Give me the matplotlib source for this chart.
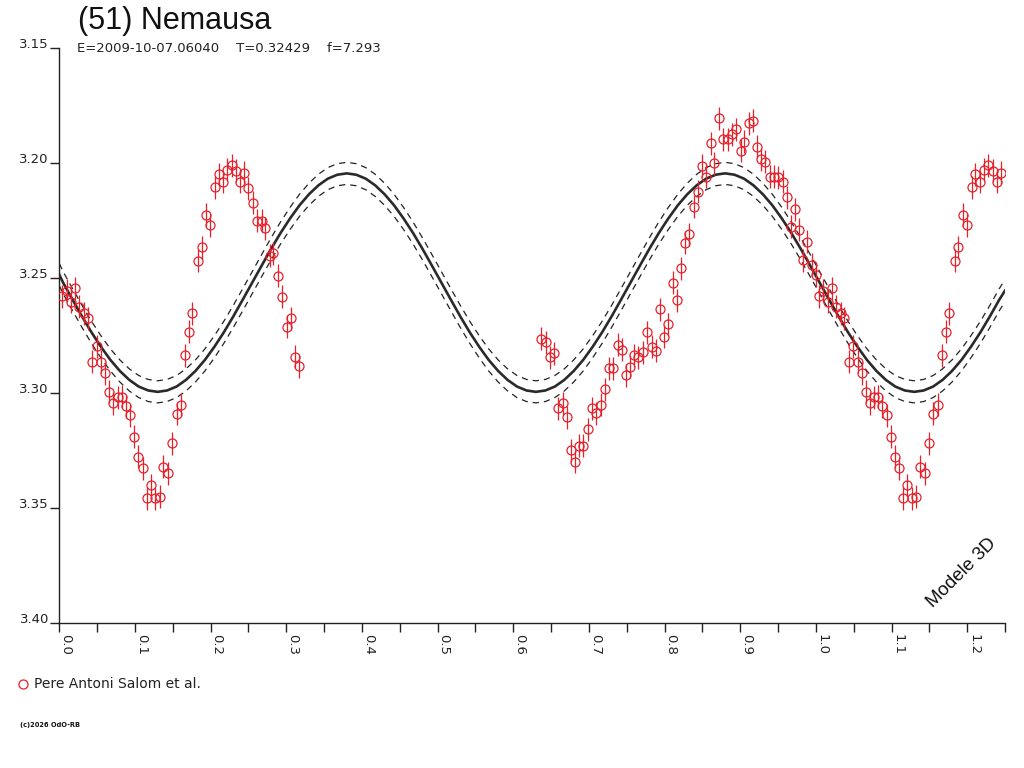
import numpy as np
import matplotlib
matplotlib.use("Agg")
import matplotlib.pyplot as plt
from matplotlib.lines import Line2D

plt.rcParams['font.family'] = ['DejaVu Sans']

# ---- observations (phase, reduced magnitude) ----
phase = [
    0.004, 0.0098, 0.0155, 0.0207, 0.026, 0.033, 0.0375, 0.0436, 0.0494, 0.0551,
    0.0604, 0.0657, 0.0714, 0.0771, 0.0824, 0.0877, 0.0934, 0.099, 0.1044, 0.1101,
    0.1154, 0.1211, 0.1265, 0.133, 0.1374, 0.144, 0.1493, 0.1551, 0.1608, 0.1661,
    0.1718, 0.1758, 0.1837, 0.1882, 0.1939, 0.1992, 0.2058, 0.211, 0.2167, 0.222,
    0.2278, 0.2335, 0.2388, 0.2445, 0.2498, 0.2556, 0.2609, 0.2675, 0.2718, 0.2784,
    0.2828, 0.2886, 0.2943, 0.3005, 0.3058, 0.3115, 0.3168,
    0.6366, 0.6428, 0.6485, 0.6542, 0.6595, 0.6653, 0.6705, 0.6762, 0.6815, 0.6872,
    0.6925, 0.6983, 0.7036, 0.7093, 0.7159, 0.7212, 0.7268, 0.7321, 0.7379, 0.7432,
    0.7489, 0.7542, 0.7599, 0.7652, 0.7718, 0.7771, 0.7829, 0.7886, 0.7939, 0.7995,
    0.8048, 0.8106, 0.8159, 0.8216, 0.8269, 0.8326, 0.8388, 0.8437, 0.8497, 0.8542,
    0.8608, 0.8656, 0.8718, 0.8775, 0.8833, 0.8894, 0.8943, 0.9005, 0.9053, 0.9115,
    0.9164, 0.9224, 0.9269, 0.9326, 0.9392, 0.9445, 0.9502, 0.956, 0.9613, 0.9666,
    0.9723, 0.9779, 0.9832, 0.9885, 0.9943, 0.9998,
]
mag = [
    3.258, 3.2555, 3.2603, 3.2545, 3.2625, 3.2653, 3.2675, 3.2864, 3.2796, 3.2864,
    3.2915, 3.2994, 3.3045, 3.3019, 3.3016, 3.3057, 3.3096, 3.319, 3.3277, 3.3327,
    3.3458, 3.340, 3.3458, 3.3451, 3.332, 3.3349, 3.3219, 3.3091, 3.3052, 3.2835,
    3.2733, 3.2653, 3.2425, 3.2367, 3.2226, 3.227, 3.2106, 3.2048, 3.2081, 3.203,
    3.2009, 3.2033, 3.2081, 3.2042, 3.211, 3.2173, 3.2251, 3.2251, 3.2284, 3.2404,
    3.2393, 3.2491, 3.2581, 3.2712, 3.2675, 3.2842, 3.2883,
    3.2765, 3.278, 3.2845, 3.2827, 3.3067, 3.3045, 3.3106, 3.3248, 3.3299, 3.323,
    3.323, 3.3158, 3.3067, 3.3088, 3.3052, 3.2983, 3.2893, 3.2893, 3.2791, 3.2813,
    3.2922, 3.2886, 3.2835, 3.2845, 3.2823, 3.2736, 3.2799, 3.2817, 3.2636, 3.2755,
    3.270, 3.252, 3.2596, 3.2458, 3.2346, 3.2309, 3.219, 3.2125, 3.2013, 3.206,
    3.1914, 3.2001, 3.1806, 3.1897, 3.1897, 3.1874, 3.1854, 3.1947, 3.1907, 3.1827,
    3.1816, 3.1929, 3.1984, 3.1994, 3.206, 3.206, 3.2062, 3.2081, 3.2149, 3.2277,
    3.2201, 3.2291, 3.2422, 3.2342, 3.2443, 3.2487,
]
mag_err = 0.005

# ---- 3D model light curve ----
model_phase = np.concatenate(([0.0], np.arange(0.005, 1.245, 0.0125), [1.25]))
model_mag = [3.2485,
    3.2520, 3.2594, 3.2667, 3.2736, 3.2799, 3.2856, 3.2904, 3.2943, 3.2972, 3.2989,
    3.2995, 3.2989, 3.2972, 3.2943, 3.2904, 3.2856, 3.2799, 3.2736, 3.2667, 3.2594,
    3.2520, 3.2446, 3.2373, 3.2304, 3.2241, 3.2184, 3.2136, 3.2097, 3.2068, 3.2051,
    3.2045, 3.2051, 3.2068, 3.2097, 3.2136, 3.2184, 3.2241, 3.2304, 3.2373, 3.2446,
    3.2520, 3.2594, 3.2667, 3.2736, 3.2799, 3.2856, 3.2904, 3.2943, 3.2972, 3.2989,
    3.2995, 3.2989, 3.2972, 3.2943, 3.2904, 3.2856, 3.2799, 3.2736, 3.2667, 3.2594,
    3.2520, 3.2446, 3.2373, 3.2304, 3.2241, 3.2184, 3.2136, 3.2097, 3.2068, 3.2051,
    3.2045, 3.2051, 3.2068, 3.2097, 3.2136, 3.2184, 3.2241, 3.2304, 3.2373, 3.2446,
    3.2520, 3.2594, 3.2667, 3.2736, 3.2799, 3.2856, 3.2904, 3.2943, 3.2972, 3.2989,
    3.2995, 3.2989, 3.2972, 3.2943, 3.2904, 3.2856, 3.2799, 3.2736, 3.2667, 3.2594,
    3.2555]
model_band = 0.0048

x_ticks = [0.0, 0.1, 0.2, 0.3, 0.4, 0.5, 0.6, 0.7, 0.8, 0.9, 1.0, 1.1, 1.2]
y_ticks = [3.15, 3.20, 3.25, 3.30, 3.35, 3.40]

title = "(51) Nemausa"
subtitle = "E=2009-10-07.06040    T=0.32429    f=7.293"
observer = "Pere Antoni Salom et al."

RED = '#e8202a'
INK = '#222222'

# ---- figure ----
W, H = 1024, 768
fig = plt.figure(figsize=(W / 100, H / 100), dpi=100)
ax = fig.add_axes([59.3 / W, 1 - 623 / H, (1005 - 59.3) / W, (623 - 48) / H])

ph = np.array(phase)
mg = np.array(mag)
wrap = ph < 0.247
xs = np.concatenate((ph, ph[wrap] + 1.0))
ys = np.concatenate((mg, mg[wrap]))

mm = np.array(model_mag)
ax.plot(model_phase, mm - model_band, color=INK, lw=0.9, ls=(0, (5, 4)), zorder=2)
ax.plot(model_phase, mm + model_band, color=INK, lw=0.9, ls=(0, (5, 4)), zorder=2)
ax.plot(model_phase, mm, color='#2a2a2a', lw=1.9, zorder=3)

ax.errorbar(xs, ys, yerr=mag_err, fmt='o', ms=6.5, mfc='none', mec=RED, mew=0.9,
            ecolor=RED, elinewidth=0.9, capsize=0, zorder=4)

ax.set_xlim(0.0, 1.25)
ax.set_ylim(3.40, 3.15)

ax.spines['top'].set_visible(False)
ax.spines['right'].set_visible(False)
for s in ('left', 'bottom'):
    ax.spines[s].set_linewidth(1.0)
    ax.spines[s].set_color(INK)

ax.set_xticks(x_ticks)
ax.set_xticks(np.arange(0.05, 1.26, 0.1), minor=True)
ax.set_xticklabels([f"{v:.1f}" for v in x_ticks])
ax.set_yticks(y_ticks)
ax.set_yticklabels([f"{v:.2f}" for v in y_ticks])

ax.tick_params(axis='x', which='both', direction='out', length=6.5, width=1.0,
               color=INK, labelsize=9.5, pad=1.5, labelcolor=INK)
ax.tick_params(axis='y', which='both', direction='out', length=6.5, width=1.0,
               color=INK, labelsize=9.5, pad=1, labelcolor=INK)
for lab in ax.get_xticklabels():
    lab.set_rotation(-90)
    lab.set_horizontalalignment('left')
    lab.set_verticalalignment('bottom')
    lab.set_rotation_mode('anchor')
for lab in ax.get_yticklabels():
    lab.set_verticalalignment('baseline')

# texts
fig.text(78 / W, 1 - 21 / H, title, fontsize=22, va='center', ha='left',
         color='#111111', family=['Liberation Sans', 'DejaVu Sans'])
fig.text(77 / W, 1 - 48 / H, subtitle, fontsize=9.5, va='center', ha='left', color=INK)
fig.text(962 / W, 1 - 573 / H, "Modele 3D", fontsize=13.5, rotation=45,
         ha='center', va='center', rotation_mode='anchor', color='#111111',
         family=['Liberation Sans', 'DejaVu Sans'])

fig.add_artist(Line2D([23 / W], [1 - 684 / H], marker='o', ms=6.5, mfc='none',
                      mec=RED, mew=0.9, transform=fig.transFigure))
fig.text(34 / W, 1 - 684 / H, observer, fontsize=10, va='center', ha='left', color=INK)
fig.text(20 / W, 1 - 725 / H, "(c)2026 OdO-RB", fontsize=4.8, va='center', ha='left',
         color='#111111', fontweight='bold')

fig.savefig("out.png", dpi=100)
